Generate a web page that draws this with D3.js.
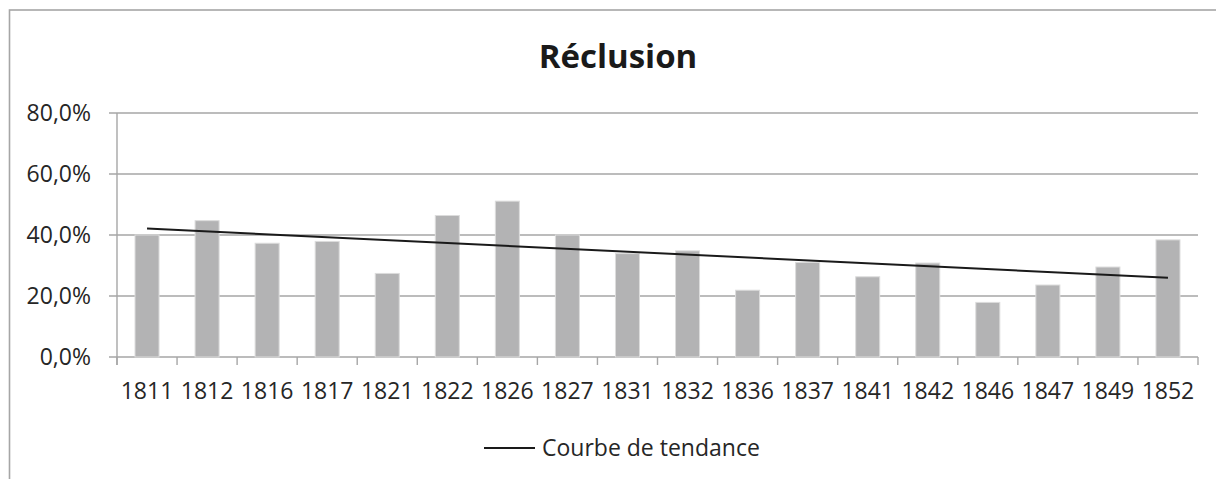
<!DOCTYPE html>
<html lang="fr">
<head>
<meta charset="UTF-8">
<title>Réclusion</title>
<style>
  body { margin: 0; background: #fff; }
  svg { display: block; font-family: "Open Sans", Lato, sans-serif; }
  .grid line { stroke: #a6a6a6; stroke-width: 1.4; }
  .bar { fill: #b3b3b4; stroke: #dcdcdc; stroke-width: 1; }
  .lbl { fill: #262626; font-size: 23px; }
</style>
</head>
<body>
<svg width="1216" height="479"></svg>
<script src="https://d3js.org/d3.v7.min.js"></script>
<script>
const annees = ["1811","1812","1816","1817","1821","1822","1826","1827","1831",
                "1832","1836","1837","1841","1842","1846","1847","1849","1852"];
const taux = [40.0, 44.7, 37.3, 37.9, 27.4, 46.4, 51.1, 40.0, 33.9,
              34.8, 21.9, 31.0, 26.3, 30.8, 17.9, 23.6, 29.5, 38.4];
const ticksY = [0, 20, 40, 60, 80];

const svg = d3.select("svg");
const fmt = v => v.toFixed(1).replace(".", ",") + "%";

// cadre
svg.append("rect")
  .attr("x", 9.5).attr("y", 10)
  .attr("width", 1300).attr("height", 600)
  .attr("fill", "none").attr("stroke", "#a6a6a6").attr("stroke-width", 1.6);

svg.append("text")
  .attr("x", 618).attr("y", 68)
  .attr("text-anchor", "middle")
  .style("font-size", "33px").style("font-weight", "bold").style("fill", "#1a1a1a")
  .text("Réclusion");

const x = d3.scaleBand().domain(annees).range([117, 1198]).paddingInner(0).paddingOuter(0);
const y = d3.scaleLinear().domain([0, 80]).range([357, 113]);

// grille + labels Y
const g = svg.append("g").attr("class", "grid");
ticksY.forEach(t => {
  g.append("line")
    .attr("x1", 109).attr("x2", 1198)
    .attr("y1", y(t)).attr("y2", y(t));
  svg.append("text").attr("class", "lbl")
    .attr("x", 91).attr("y", y(t)).attr("dy", "0.36em")
    .attr("text-anchor", "end")
    .text(fmt(t));
});
g.append("line").attr("x1", 117).attr("x2", 117).attr("y1", y(80)).attr("y2", 365);

// graduations X aux limites des catégories
annees.concat([null]).forEach((a, i) => {
  const xx = a ? x(a) : x.range()[1];
  g.append("line").attr("x1", xx).attr("x2", xx).attr("y1", y(0)).attr("y2", 365);
});

// barres
const bw = x.bandwidth() / 2.5;
svg.selectAll("rect.bar")
  .data(annees)
  .join("rect")
  .attr("class", "bar")
  .attr("x", d => x(d) + (x.bandwidth() - bw) / 2)
  .attr("width", bw)
  .attr("y", (d, i) => y(taux[i]))
  .attr("height", (d, i) => y(0) - y(taux[i]));

// labels X
svg.selectAll("text.xl")
  .data(annees)
  .join("text")
  .attr("class", "lbl xl")
  .attr("x", d => x(d) + x.bandwidth() / 2)
  .attr("y", 399)
  .attr("text-anchor", "middle")
  .text(d => d);

// courbe de tendance (régression linéaire)
const n = taux.length;
const mx = (n - 1) / 2;
const my = d3.mean(taux);
const pente = d3.sum(taux, (v, i) => (i - mx) * (v - my)) / d3.sum(taux, (v, i) => (i - mx) ** 2);
const tend = [0, n - 1].map(i => ({ i, v: my + pente * (i - mx) }));

svg.append("path")
  .datum(tend)
  .attr("fill", "none")
  .attr("stroke", "#1a1a1a")
  .attr("stroke-width", 2)
  .attr("d", d3.line()
    .x(d => x(annees[d.i]) + x.bandwidth() / 2)
    .y(d => y(d.v)));

// légende
svg.append("line")
  .attr("x1", 484).attr("x2", 535).attr("y1", 448).attr("y2", 448)
  .attr("stroke", "#1a1a1a").attr("stroke-width", 2);
svg.append("text").attr("class", "lbl")
  .attr("x", 542).attr("y", 456)
  .text("Courbe de tendance");
</script>
</body>
</html>
